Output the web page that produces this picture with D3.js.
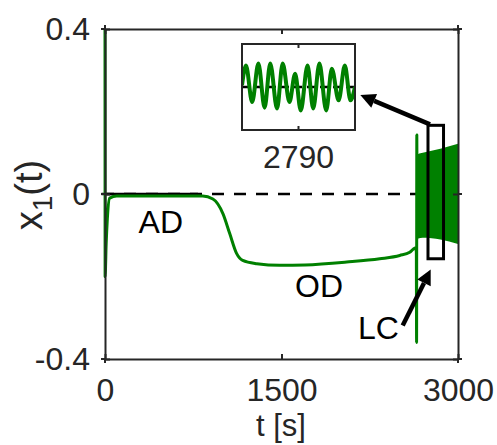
<!DOCTYPE html>
<html>
<head>
<meta charset="utf-8">
<script src="https://cdn.jsdelivr.net/npm/d3@7"></script>
<style>
  body { margin: 0; background: #fff; }
  text { font-family: "Liberation Sans", Arial, Helvetica, sans-serif; }
</style>
</head>
<body>
<div id="chart"></div>
<script>
// main trace x1(t)
var tMain = [0, 1, 10, 20, 40, 100, 300, 600, 830, 917, 1003, 1060, 1118, 1170, 1290, 1485, 1700, 2054, 2335, 2505, 2590, 2615, 2640, 2646, 2648, 2650, 2652];
var xMain = [0.4, -0.2, -0.12, -0.06, -0.01, -0.005, -0.005, -0.005, -0.005, -0.012, -0.048, -0.096, -0.144, -0.161, -0.169, -0.173, -0.172, -0.165, -0.157, -0.149, -0.141, -0.135, -0.13, -0.14, -0.36, 0.143, 0.0];

// envelope of the limit cycle (LC) band
var tBand = [2651, 2656, 2662, 2700, 2850, 3000];
var bandUpper = [0.09, 0.096, 0.097, 0.1, 0.11, 0.122];
var bandLower = [-0.16, -0.13, -0.108, -0.106, -0.11, -0.121];

// zoomed oscillation shown in the inset
var tInset = [2780, 2780.7, 2781.8, 2782.9, 2784.0, 2785.0, 2786.2, 2787.2, 2788.4, 2789.4, 2790.4, 2791.6, 2792.6, 2793.7, 2794.9, 2795.9, 2797.1, 2798.2, 2799.2, 2800];
var xInset = [0.008, 0.10, -0.07, 0.109, -0.096, 0.109, -0.10, 0.109, -0.07, 0.062, -0.109, 0.10, -0.10, 0.109, -0.109, 0.085, -0.062, 0.10, -0.062, 0.0];

// solid black reference near zero at the start
var tRef = [-30, 790];

var xTicks = [0, 1500, 3000];
var xTickLabels = ["0", "1500", "3000"];
var yTicks = [-0.4, 0, 0.4];
var yTickLabels = ["-0.4", "0", "0.4"];
var insetTicks = [2790];

var width = 497, height = 445;
var svg = d3.select("#chart").append("svg")
    .attr("width", width)
    .attr("height", height);

var x = d3.scaleLinear().domain([0, 3000]).range([105, 458]);
var y = d3.scaleLinear().domain([-0.4, 0.4]).range([359, 29]);

var axisColor = "#262626";
var green = "#008000";

svg.append("defs").append("clipPath").attr("id", "plotclip")
    .append("rect")
    .attr("x", x(0) - 6).attr("y", y(0.4))
    .attr("width", x(3000) - x(0) + 6).attr("height", y(-0.4) - y(0.4));

// reference segment drawn under everything
svg.append("line")
    .attr("x1", x(tRef[0])).attr("x2", x(tRef[1]))
    .attr("y1", y(0)).attr("y2", y(0))
    .attr("stroke", "black")
    .attr("stroke-width", 2.5);

var plot = svg.append("g").attr("clip-path", "url(#plotclip)");

// zero line
plot.append("line")
    .attr("x1", x(0)).attr("x2", x(3000))
    .attr("y1", y(0)).attr("y2", y(0))
    .attr("stroke", "black")
    .attr("stroke-width", 2.5)
    .attr("stroke-dasharray", "12,10")
    .attr("stroke-dashoffset", 3);

// LC band
var band = d3.area()
    .x(function(d, i) { return x(tBand[i]); })
    .y0(function(d, i) { return y(bandLower[i]); })
    .y1(function(d, i) { return y(bandUpper[i]); })
    .curve(d3.curveMonotoneX);

plot.append("path")
    .datum(tBand)
    .attr("d", band)
    .attr("fill", green);

var line = d3.line()
    .x(function(d, i) { return x(tMain[i]); })
    .y(function(d, i) { return y(xMain[i]); })
    .curve(d3.curveMonotoneX);

plot.append("path")
    .datum(tMain)
    .attr("d", line)
    .attr("fill", "none")
    .attr("stroke", green)
    .attr("stroke-width", 3)
    .attr("stroke-linejoin", "round");

// axes
var gx = svg.append("g")
    .attr("transform", "translate(0," + y(-0.4) + ")")
    .call(d3.axisBottom(x).tickValues(xTicks).tickSize(-5).tickSizeOuter(0).tickPadding(19)
        .tickFormat(function(d, i) { return xTickLabels[i]; }));
var gxt = svg.append("g")
    .attr("transform", "translate(0," + y(0.4) + ")")
    .call(d3.axisTop(x).tickValues(xTicks).tickSize(-5).tickSizeOuter(0).tickFormat(""));
var gy = svg.append("g")
    .attr("transform", "translate(" + x(0) + ",0)")
    .call(d3.axisLeft(y).tickValues(yTicks).tickSize(-5).tickSizeOuter(0).tickPadding(15)
        .tickFormat(function(d, i) { return yTickLabels[i]; }));
var gyr = svg.append("g")
    .attr("transform", "translate(" + x(3000) + ",0)")
    .call(d3.axisRight(y).tickValues(yTicks).tickSize(-5).tickSizeOuter(0).tickFormat(""));

[gx, gxt, gy, gyr].forEach(function(g) {
    g.selectAll("path, line").attr("stroke", axisColor).attr("stroke-width", 2);
    g.selectAll("text").attr("fill", axisColor).style("font-size", "32px");
});

// small outward stubs
yTicks.forEach(function(v) {
    svg.append("line").attr("x1", x(0) - 4).attr("x2", x(0)).attr("y1", y(v)).attr("y2", y(v))
        .attr("stroke", axisColor).attr("stroke-width", 2);
    svg.append("line").attr("x1", x(3000)).attr("x2", x(3000) + 4).attr("y1", y(v)).attr("y2", y(v))
        .attr("stroke", axisColor).attr("stroke-width", 2);
});
[0, 3000].forEach(function(v) {
    svg.append("line").attr("x1", x(v)).attr("x2", x(v)).attr("y1", y(-0.4)).attr("y2", y(-0.4) + 4)
        .attr("stroke", axisColor).attr("stroke-width", 2);
    svg.append("line").attr("x1", x(v)).attr("x2", x(v)).attr("y1", y(0.4) - 4).attr("y2", y(0.4))
        .attr("stroke", axisColor).attr("stroke-width", 2);
});

// axis labels
svg.append("text")
    .attr("x", 281).attr("y", 436)
    .attr("text-anchor", "middle")
    .attr("fill", axisColor)
    .style("font-size", "31px")
    .text("t [s]");

var ylab = svg.append("text")
    .attr("transform", "translate(42,195) rotate(-90)")
    .attr("text-anchor", "middle")
    .attr("fill", axisColor)
    .style("font-size", "38px");
ylab.append("tspan").text("x");
ylab.append("tspan").attr("dy", 10).style("font-size", "28px").text("1");
ylab.append("tspan").attr("dy", -10).text("(t)");

// region labels
var labels = [
    { text: "AD", t: 285, v: -0.094 },
    { text: "OD", t: 1615, v: -0.25 },
    { text: "LC", t: 2150, v: -0.352 }
];
svg.selectAll(".region")
    .data(labels)
    .enter()
    .append("text")
    .attr("class", "region")
    .attr("x", function(d) { return x(d.t); })
    .attr("y", function(d) { return y(d.v); })
    .attr("fill", "black")
    .style("font-size", "32px")
    .text(function(d) { return d.text; });

// zoom rectangle
var zoomRect = { t0: 2745, t1: 2877, v0: -0.157, v1: 0.1665 };
svg.append("rect")
    .attr("x", x(zoomRect.t0)).attr("y", y(zoomRect.v1))
    .attr("width", x(zoomRect.t1) - x(zoomRect.t0))
    .attr("height", y(zoomRect.v0) - y(zoomRect.v1))
    .attr("fill", "none")
    .attr("stroke", "black")
    .attr("stroke-width", 3);

// arrows
function arrow(x1, y1, x2, y2) {
    var ang = Math.atan2(y2 - y1, x2 - x1);
    var len = 15, hw = 7.5;
    var bx = x2 - len * Math.cos(ang), by = y2 - len * Math.sin(ang);
    svg.append("line")
        .attr("x1", x1).attr("y1", y1).attr("x2", bx).attr("y2", by)
        .attr("stroke", "black").attr("stroke-width", 4.5);
    var pts = [
        [x2, y2],
        [bx + hw * Math.sin(ang), by - hw * Math.cos(ang)],
        [bx - hw * Math.sin(ang), by + hw * Math.cos(ang)]
    ];
    svg.append("polygon")
        .attr("points", pts.map(function(p) { return p.join(","); }).join(" "))
        .attr("fill", "black");
}
arrow(x(zoomRect.t0) + 2, y(zoomRect.v1) - 1, x(2170), y(0.24));
arrow(x(2530), y(-0.319), x(2768), y(-0.183));

// inset
var xi = d3.scaleLinear().domain([2780, 2800]).range([242, 355]);
var yi = d3.scaleLinear().domain([-0.2, 0.2]).range([130, 44]);

svg.append("defs").append("clipPath").attr("id", "insetclip")
    .append("rect")
    .attr("x", xi(2780)).attr("y", yi(0.2))
    .attr("width", xi(2800) - xi(2780)).attr("height", yi(-0.2) - yi(0.2));

var inset = svg.append("g");
inset.append("rect")
    .attr("x", xi(2780)).attr("y", yi(0.2))
    .attr("width", xi(2800) - xi(2780)).attr("height", yi(-0.2) - yi(0.2))
    .attr("fill", "white");

inset.append("line")
    .attr("x1", xi(2780)).attr("x2", xi(2800))
    .attr("y1", yi(0)).attr("y2", yi(0))
    .attr("stroke", "black").attr("stroke-width", 2.5)
    .attr("stroke-dasharray", "8,5");

var iline = d3.line()
    .x(function(d, i) { return xi(tInset[i]); })
    .y(function(d, i) { return yi(xInset[i]); })
    .curve(d3.curveMonotoneX);

inset.append("path")
    .datum(tInset)
    .attr("d", iline)
    .attr("clip-path", "url(#insetclip)")
    .attr("fill", "none")
    .attr("stroke", green)
    .attr("stroke-width", 4);

inset.append("rect")
    .attr("x", xi(2780)).attr("y", yi(0.2))
    .attr("width", xi(2800) - xi(2780)).attr("height", yi(-0.2) - yi(0.2))
    .attr("fill", "none")
    .attr("stroke", axisColor).attr("stroke-width", 2);

insetTicks.forEach(function(v) {
    inset.append("line").attr("x1", xi(v)).attr("x2", xi(v)).attr("y1", yi(0.2)).attr("y2", yi(0.2) + 4)
        .attr("stroke", axisColor).attr("stroke-width", 2);
    inset.append("line").attr("x1", xi(v)).attr("x2", xi(v)).attr("y1", yi(-0.2) - 4).attr("y2", yi(-0.2))
        .attr("stroke", axisColor).attr("stroke-width", 2);
    inset.append("text")
        .attr("x", xi(v)).attr("y", yi(-0.2) + 38)
        .attr("text-anchor", "middle")
        .attr("fill", axisColor)
        .style("font-size", "32px")
        .text(String(v));
});
</script>
</body>
</html>
